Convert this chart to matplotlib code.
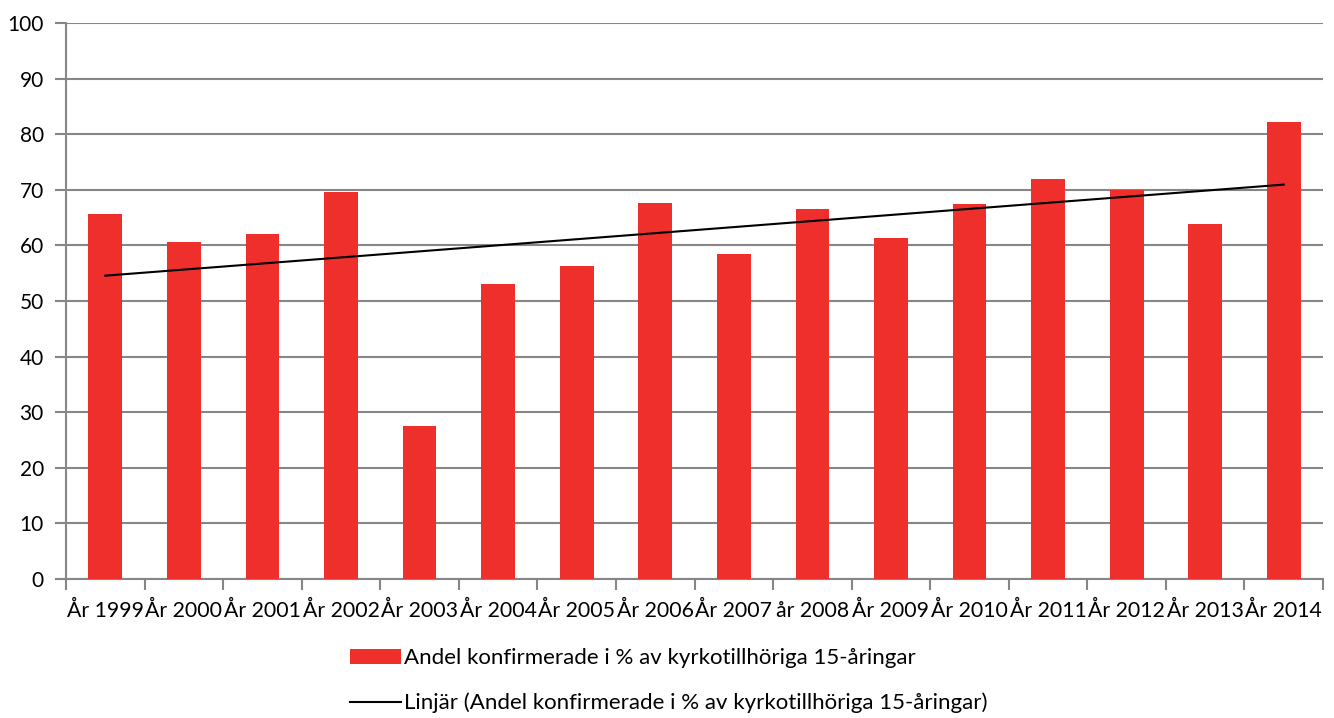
import matplotlib.pyplot as plt
import numpy as np

years = ["År 1999", "År 2000", "År 2001", "År 2002", "År 2003", "År 2004", "År 2005", "År 2006",
         "År 2007", "år 2008", "År 2009", "År 2010", "År 2011", "År 2012", "År 2013", "År 2014"]
values = [65.6, 60.6, 62.0, 69.6, 27.5, 53.0, 56.3, 67.6,
          58.4, 66.6, 61.3, 67.5, 71.9, 70.0, 63.8, 82.2]
label_bars = "Andel konfirmerade i % av kyrkotillhöriga 15-åringar"
label_trend = "Linjär (Andel konfirmerade i % av kyrkotillhöriga 15-åringar)"

plt.rcParams['font.family'] = ['Lato', 'DejaVu Sans']

fig = plt.figure(figsize=(13.34, 7.18), dpi=100)
ax = fig.add_axes([0.0495, 0.1936, 0.9423, 0.7744])

x = np.arange(len(values))
bars = ax.bar(x, values, width=0.43, color="#ee2f2b", label=label_bars, zorder=3)

# linear trendline like Excel
k, b = np.polyfit(x, values, 1)
trend, = ax.plot(x, k * x + b, color="black", lw=1.5, label=label_trend, zorder=4)

ax.set_xlim(-0.5, len(values) - 0.5)
ax.set_ylim(0, 100)
ax.set_yticks(range(0, 101, 10))
ax.yaxis.grid(True, color="#868686", lw=1.5, zorder=0)
ax.tick_params(axis="y", length=8, color="#868686", width=1.5, labelsize=15, pad=8)

ax.set_xticks(x)
ax.set_xticklabels(years, fontsize=15.3)
ax.set_xticks(np.arange(-0.5, len(values)), minor=True)
ax.tick_params(axis="x", which="major", length=0, pad=16)
ax.tick_params(axis="x", which="minor", length=8, color="#868686", width=1.5)

for s in ["top", "right"]:
    ax.spines[s].set_visible(False)
for s in ["left", "bottom"]:
    ax.spines[s].set_color("#868686")
    ax.spines[s].set_linewidth(1.5)

fig.legend(handles=[bars, trend], loc="upper left", bbox_to_anchor=(0.262, 0.097),
           frameon=False, fontsize=16, handlelength=2.3, handletextpad=0.15,
           labelspacing=1.1, borderaxespad=0, borderpad=0)

fig.savefig("out.png", dpi=100)
